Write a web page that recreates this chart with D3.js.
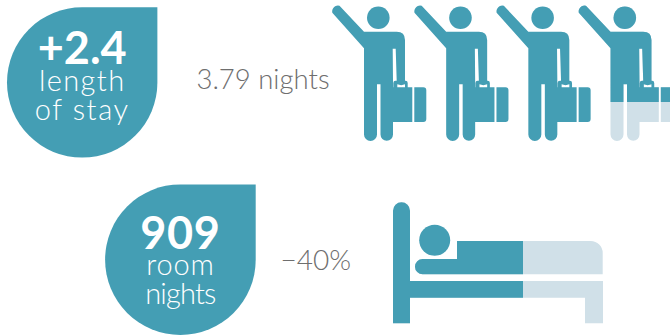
<!DOCTYPE html>
<html>
<head>
<meta charset="utf-8">
<script src="https://cdn.jsdelivr.net/npm/d3@7"></script>
<style>
html,body{margin:0;padding:0;background:#fff;overflow:hidden}
svg{display:block}
text{font-family:"Lato",sans-serif}
</style>
</head>
<body>
<svg id="chart" width="670" height="335"></svg>
<script>
// Headline figures
const stayNights = 3.79;
const roomChange = 0.40;

// Callout drops: centre and radius are applied in drawDrop
const stayLines = ["+2.4", "length", "of stay"];
const roomLines = ["909", "room", "nights"];
const stayNote = "3.79 nights";
const roomNote = "\u221240%";

const teal = "#449eb4";
const pale = "#d0e0e8";
const grey = "#6e6e6e";

const svg = d3.select("#chart");
const defs = svg.append("defs");

// Traveller pictogram, in units local to the left edge of the torso
const travellerPath = [
  "M-31.7,12.7A5.8,5.8 0 0 1 -24.5,5.8L0,31.7H32.7Q41,31.7 41,40V81H32.7L31.7,48.7H28.7L29,81V134.5",
  "A6.25,6.25 0 0 1 16.5,134.5V84.3H13V134.5A6.5,6.5 0 0 1 0,134.5V48.3Z",
  "M27,87.3H48.3V122H27Z",
  "M50.3,87.3H59.3Q62.3,87.3 62.3,90.3V119Q62.3,122 59.3,122H50.3Z",
  "M29.3,87.3V83Q29.3,80.7 31.5,80.7H41.5Q43.7,80.7 43.7,83V87.3Z",
  "M33.3,87.3H41V84.2L37.2,85.2L33.3,84.2Z"
].join("");
const travellerHead = { cx: 14.3, cy: 17.7, r: 11.3 };

// One pictogram per night; the last is filled for the fractional part
const nightSlots = d3.range(Math.ceil(stayNights));
const travellerX = d3.scaleLinear().domain([0, 3]).range([364, 610.5]);
const fillY = d3.scaleLinear().domain([0, 1]).range([-45, 141]);

function drawTraveller(parent, color) {
  parent.append("path").attr("d", travellerPath).attr("fill", color);
  parent.append("circle")
    .attr("cx", travellerHead.cx).attr("cy", travellerHead.cy)
    .attr("r", travellerHead.r).attr("fill", color);
}

nightSlots.forEach(i => {
  const share = Math.min(1, stayNights - i);
  const id = "night-" + i;
  defs.append("clipPath").attr("id", id).append("rect")
    .attr("x", -40).attr("y", -10).attr("width", 120)
    .attr("height", fillY(share) + 10);
  const g = svg.append("g").attr("transform", `translate(${travellerX(i)},0)`);
  if (share < 1) drawTraveller(g, pale);
  drawTraveller(g.append("g").attr("clip-path", `url(#${id})`), teal);
});

// Bed pictogram: the occupied share is teal, measured back from the foot of the bed
const bedX = d3.scaleLinear().domain([0, 1]).range([603, 403]);
const bedPath = [
  "M393,323.3V210.8A8.5,8.5 0 0 1 410,210.8V281H603V323.3H585V297.7H410V323.3Z",
  "M457,241H590.7A12,12 0 0 1 602.7,253V274.3H422.6A7.65,7.65 0 0 1 422.6,259H457Z"
].join("");
defs.append("clipPath").attr("id", "bed-used").append("rect")
  .attr("x", 380).attr("y", 190).attr("width", bedX(roomChange) - 380).attr("height", 140);
svg.append("path").attr("d", bedPath).attr("fill", pale);
const bedFill = svg.append("g").attr("clip-path", "url(#bed-used)");
bedFill.append("path").attr("d", bedPath).attr("fill", teal);
bedFill.append("circle").attr("cx", 434.7).attr("cy", 240.3).attr("r", 15.5).attr("fill", teal);

// Teardrop callout: a circle with one squared corner at the top right
function drawDrop(cx, cy, r, lines, baselines, spacing) {
  const p = d3.path();
  p.moveTo(cx + r, cy - r);
  p.lineTo(cx + r, cy);
  p.arc(cx, cy, r, 0, Math.PI * 1.5);
  p.closePath();
  svg.append("path").attr("d", p.toString()).attr("fill", teal);
  svg.selectAll(null).data(lines).enter().append("text")
    .attr("x", cx)
    .attr("y", (d, i) => baselines[i])
    .attr("text-anchor", "middle")
    .attr("fill", "#fff")
    .attr("font-family", (d, i) => i === 0 ? '"Open Sans",sans-serif' : null)
    .attr("font-size", (d, i) => i === 0 ? 45 : 29)
    .attr("font-weight", (d, i) => i === 0 ? 700 : 300)
    .attr("letter-spacing", (d, i) => spacing[i])
    .text(d => d);
}

drawDrop(82.2, 82.4, 75.2, stayLines, [64, 90.5, 120], [0, 1.4, 1.6]);
drawDrop(180.4, 259.7, 75.3, roomLines, [249, 275, 304], [0.7, 0.8, -0.8]);

svg.append("text").attr("x", 196.5).attr("y", 89)
  .attr("font-size", 27.5).attr("font-weight", 300).attr("fill", grey).text(stayNote);
svg.append("text").attr("x", 280.5).attr("y", 269.5)
  .attr("font-size", 28).attr("font-weight", 300).attr("fill", grey).text(roomNote);
</script>
</body>
</html>
